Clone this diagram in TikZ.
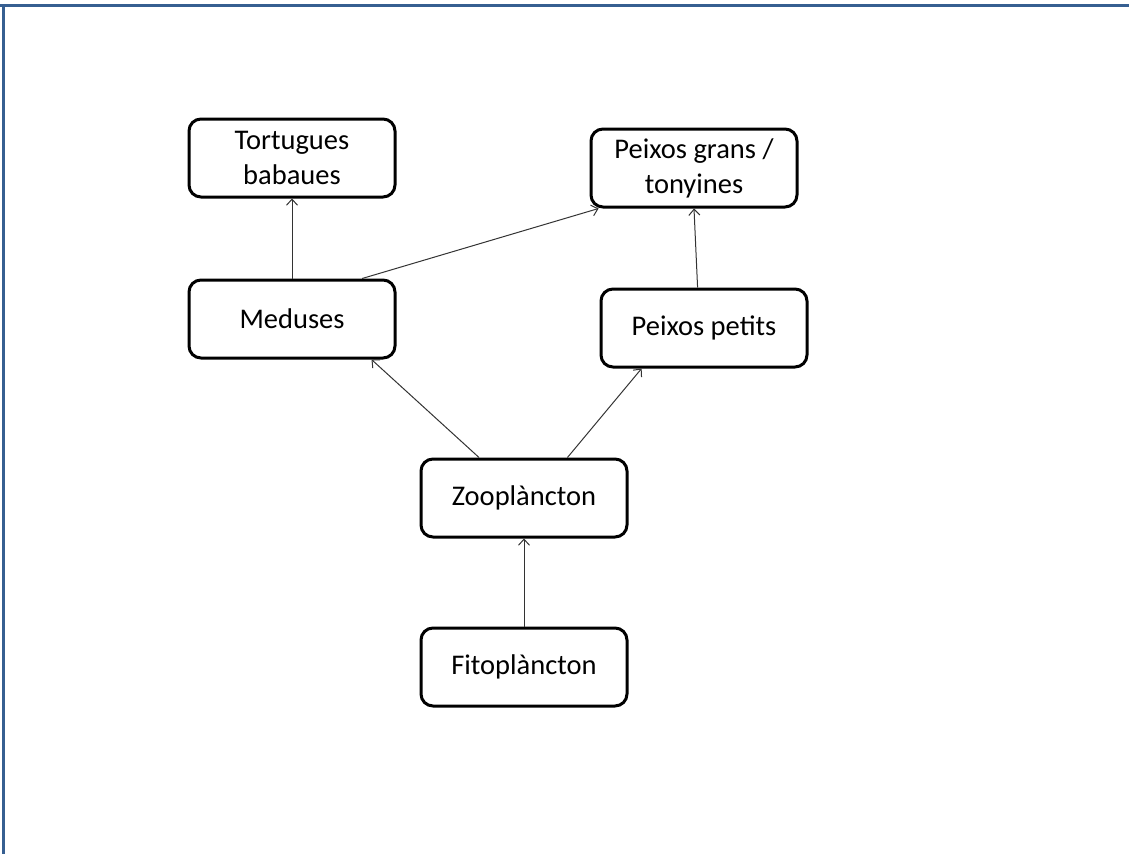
\documentclass[tikz,border=0pt]{standalone}
\usepackage{fontspec}
\setmainfont{Carlito}
\usetikzlibrary{arrows.meta}

\definecolor{vora}{RGB}{54,95,145}

\begin{document}
\begin{tikzpicture}[x=1pt,y=-1pt,
  caixa/.style={draw, line width=3pt, rounded corners=12pt, fill=white,
    minimum width=206pt, minimum height=78pt, align=center,
    font=\fontsize{28.5}{35}\selectfont, inner sep=0pt},
  fletxa/.style={line width=1pt, -{Straight Barb[length=6pt,width=11pt]}, black!80}]

% Marc
\useasboundingbox (0,0) rectangle (1129,854);
\draw[vora, line width=3pt] (0,5) -- (1129,5);
\draw[vora, line width=3pt] (3,5) -- (3,854);

% Caixes
\node[caixa] (tort) at (292,158) {Tortugues\\babaues};
\node[caixa] (pg) at (694,168) {Peixos grans /\\tonyines};
\node[caixa] (med) at (292,319) {Meduses};
\node[caixa] (pp) at (704,328) {Peixos petits};
\node[caixa] (zoo) at (524,498) {Zooplàncton};
\node[caixa] (fito) at (524,667) {Fitoplàncton};

% Fletxes
\draw[fletxa] (med.north) -- (tort.south);
\draw[fletxa] (med.30) -- (pg.203);
\draw[fletxa] (pp.99) -- (pg.south);
\draw[fletxa] (zoo.138) -- (med.333);
\draw[fletxa] (zoo.43) -- (pp.213);
\draw[fletxa] (fito.north) -- (zoo.south);

\end{tikzpicture}
\end{document}
